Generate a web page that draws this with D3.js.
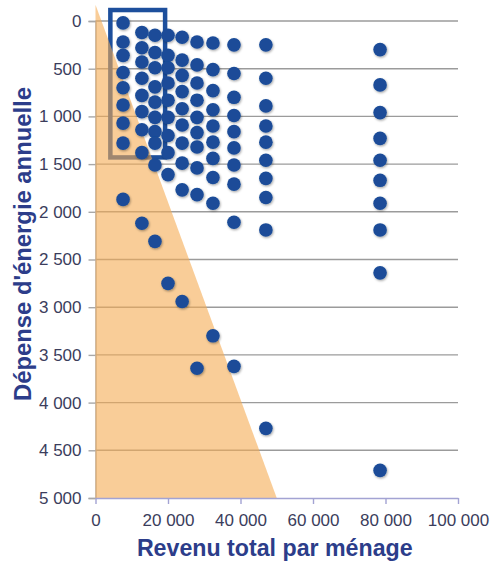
<!DOCTYPE html>
<html>
<head>
<meta charset="utf-8">
<script src="https://cdn.jsdelivr.net/npm/d3@7"></script>
<style>
  html, body { margin: 0; padding: 0; background: #fff; }
  svg { display: block; }
  text { font-family: "Liberation Sans", Arial, sans-serif; }
</style>
</head>
<body>
<svg id="chart" width="493" height="566"></svg>
<script>
// ---- data ----
const incomeGroups = [7600, 12800, 16400, 20000, 23900, 28000, 32400, 38200, 47000, 78500];
const spendG1  = [20, 220, 360, 540, 700, 880, 1070, 1280, 1870];
const spendG2  = [120, 280, 430, 600, 780, 950, 1140, 1380, 2120];
const spendG3  = [150, 330, 490, 690, 850, 1010, 1160, 1280, 1510, 2310];
const spendG4  = [150, 360, 490, 650, 830, 1010, 1200, 1380, 1610, 2750];
const spendG5  = [170, 410, 570, 740, 920, 1090, 1280, 1490, 1770, 2940];
const spendG6  = [220, 460, 650, 830, 1010, 1170, 1320, 1540, 1820, 3640];
const spendG7  = [230, 510, 730, 930, 1100, 1270, 1440, 1640, 1910, 3300];
const spendG8  = [250, 550, 800, 990, 1160, 1330, 1510, 1710, 2110, 3620];
const spendG9  = [250, 600, 890, 1100, 1270, 1460, 1650, 1850, 2190, 4270];
const spendG10 = [300, 670, 960, 1230, 1460, 1670, 1910, 2190, 2640, 4710];
const spendByGroup = [spendG1, spendG2, spendG3, spendG4, spendG5, spendG6, spendG7, spendG8, spendG9, spendG10];

const xTicks = [0, 20000, 40000, 60000, 80000, 100000];
const yTicks = [0, 500, 1000, 1500, 2000, 2500, 3000, 3500, 4000, 4500, 5000];

// precarity zone (triangle) and highlighted box, in data units
const zoneTriangle = [[0, -170], [0, 5000], [50000, 5000]];
const highlightBox = { x0: 4100, x1: 19200, y0: -115, y1: 1430 };

const xTitle = "Revenu total par ménage";
const yTitle = "Dépense d'énergie annuelle";

// ---- chart ----
const svg = d3.select("#chart");
const x = d3.scaleLinear().domain([0, 100000]).range([95.5, 458]);
const y = d3.scaleLinear().domain([0, 5000]).range([21, 498]);
const fmt = v => d3.format(",")(v).replace(/,/g, " ");

const defs = svg.append("defs");
const f = defs.append("filter").attr("id", "sh").attr("x", "-50%").attr("y", "-50%").attr("width", "200%").attr("height", "200%");
f.append("feDropShadow").attr("dx", 0.8).attr("dy", 1.2).attr("stdDeviation", 1.1)
  .attr("flood-color", "#000").attr("flood-opacity", 0.35);

// gridlines
svg.append("g").selectAll("line").data(yTicks.filter(d => d !== 5000)).join("line")
  .attr("x1", x(0)).attr("x2", x(100000))
  .attr("y1", d => y(d)).attr("y2", d => y(d))
  .attr("stroke", "#9b9b9b").attr("stroke-width", 1.4);

// y axis
const yAxis = svg.append("g").attr("transform", `translate(${x(0)},0)`)
  .call(d3.axisLeft(y).tickValues(yTicks).tickFormat(fmt).tickSize(7).tickPadding(7));
yAxis.select(".domain").attr("stroke", "#a8a8a8").attr("stroke-width", 1.4);
yAxis.selectAll(".tick line").attr("stroke", "#a8a8a8").attr("stroke-width", 1.4);
yAxis.selectAll(".tick text").attr("font-size", 17).attr("fill", "#3b3d5c")
  .style("font-family", "'Liberation Sans', Arial, sans-serif");

// highlight box
svg.append("rect")
  .attr("x", x(highlightBox.x0)).attr("y", y(highlightBox.y0))
  .attr("width", x(highlightBox.x1) - x(highlightBox.x0))
  .attr("height", y(highlightBox.y1) - y(highlightBox.y0))
  .attr("fill", "none").attr("stroke", "#1d4f9c").attr("stroke-width", 4.5);

// triangle zone
svg.append("path")
  .attr("d", d3.line().x(d => x(d[0])).y(d => y(d[1]))(zoneTriangle) + "Z")
  .attr("fill", "rgb(245,172,84)").attr("fill-opacity", 0.6);

// x axis
const xAxis = svg.append("g").attr("transform", `translate(0,${y(5000)})`)
  .call(d3.axisBottom(x).tickValues(xTicks).tickFormat(fmt).tickSizeInner(6).tickSizeOuter(0).tickPadding(10));
xAxis.select(".domain").attr("stroke", "#a3a3d3").attr("stroke-width", 1.6);
xAxis.selectAll(".tick line").attr("stroke", "#a3a3d3").attr("stroke-width", 1.4);
xAxis.selectAll(".tick text").attr("font-size", 17).attr("fill", "#3b3d5c")
  .style("font-family", "'Liberation Sans', Arial, sans-serif");

// dots
const points = [];
incomeGroups.forEach((inc, i) => spendByGroup[i].forEach(s => points.push({ inc, s })));
svg.append("g").attr("filter", "url(#sh)").selectAll("circle").data(points).join("circle")
  .attr("cx", d => x(d.inc)).attr("cy", d => y(d.s)).attr("r", 6.8)
  .attr("fill", "#1a4c98");

// axis titles
svg.append("text").attr("x", (x(0) + x(100000)) / 2 - 2).attr("y", 556)
  .attr("text-anchor", "middle").attr("font-size", 23.2).attr("font-weight", "bold")
  .attr("fill", "#2c3d8a").text(xTitle);
svg.append("text").attr("transform", `translate(30.5,244) rotate(-90)`)
  .attr("text-anchor", "middle").attr("font-size", 23.8).attr("font-weight", "bold")
  .attr("fill", "#2c3d8a").text(yTitle);
</script>
</body>
</html>
